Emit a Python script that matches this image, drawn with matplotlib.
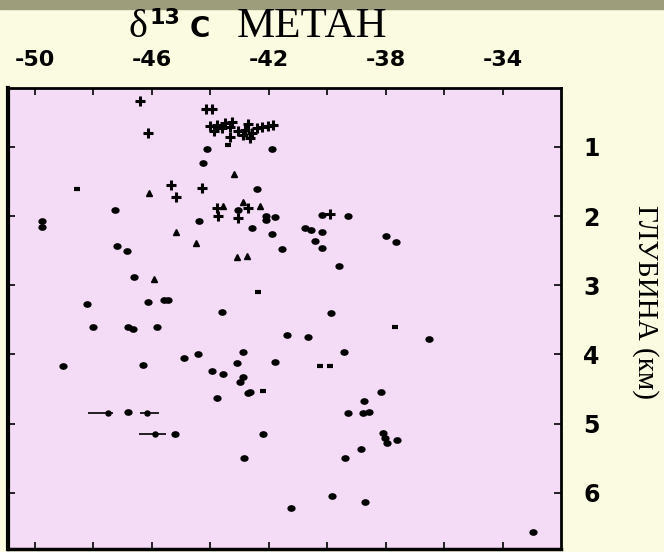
import matplotlib.pyplot as plt
from matplotlib.markers import MarkerStyle
from matplotlib.patches import Rectangle
from matplotlib.transforms import Affine2D

# delta13C метана (промилле) против глубины (км)
dot_x = [-44.11, -41.88, -44.25, -42.40, -47.26, -43.05, -42.09, -42.09, -41.78, -44.38,
         -42.57, -41.88, -49.76, -49.76, -41.54, -40.75, -40.55, -40.17, -40.41, -40.17,
         -40.17, -39.28, -37.98, -37.64, -47.19, -46.85, -46.61, -39.59, -48.22, -46.13,
         -45.58, -45.45, -43.60, -39.86, -48.01, -46.82, -46.64, -45.82, -41.37, -40.65,
         -36.51, -39.42, -49.04, -46.30, -44.90, -44.42, -42.88, -43.08, -41.78, -43.94,
         -43.56, -42.88, -42.98, -42.71, -42.64, -43.77, -38.15, -38.73, -39.28, -38.77,
         -38.56, -38.08, -38.01, -37.95, -37.60, -38.84, -39.38, -46.82, -45.21, -42.19,
         -42.84, -39.83, -38.70, -41.23, -32.95]
dot_y = [1.03, 1.03, 1.23, 1.61, 1.91, 1.91, 2.00, 2.06, 2.01, 2.07,
         2.17, 2.26, 2.07, 2.16, 2.47, 2.17, 2.20, 2.23, 2.36, 2.46,
         1.98, 2.00, 2.29, 2.37, 2.43, 2.50, 2.88, 2.72, 3.27, 3.24,
         3.21, 3.21, 3.38, 3.40, 3.60, 3.60, 3.63, 3.60, 3.72, 3.75,
         3.77, 3.96, 4.16, 4.15, 4.05, 3.99, 3.96, 4.12, 4.11, 4.24,
         4.28, 4.32, 4.40, 4.55, 4.54, 4.63, 4.54, 4.67, 4.84, 4.84,
         4.83, 5.13, 5.21, 5.28, 5.23, 5.36, 5.49, 4.83, 5.15, 5.15,
         5.49, 6.04, 6.13, 6.22, 6.56]

star_x = [-46.40, -46.13, -44.14, -43.94, -44.01, -43.77, -43.60, -43.49, -43.32, -43.25,
          -43.32, -43.05, -42.81, -42.88, -42.64, -42.57, -42.40, -42.23, -42.02, -41.85,
          -43.87, -42.71, -45.34, -45.17, -43.77, -43.73, -42.71, -43.05, -39.90, -44.28]
star_y = [0.34, 0.80, 0.45, 0.45, 0.70, 0.68, 0.73, 0.65, 0.71, 0.64,
          0.86, 0.77, 0.75, 0.83, 0.87, 0.80, 0.73, 0.71, 0.70, 0.68,
          0.77, 0.67, 1.55, 1.72, 1.88, 2.00, 1.88, 2.03, 1.97, 1.59]

tri_x = [-43.18, -46.10, -43.56, -42.88, -42.29, -45.17, -44.49, -43.08, -42.74, -45.92]
tri_y = [1.39, 1.66, 1.85, 1.79, 1.85, 2.23, 2.39, 2.59, 2.58, 2.91]

dash_x = [-43.39, -48.56, -42.36, -37.67, -40.24, -39.90, -42.19]
dash_y = [0.97, 1.61, 3.10, 3.60, 4.16, 4.16, 4.53]

err_x = [-47.50, -46.16, -45.89]
err_y = [4.84, 4.84, 5.15]
err_lo = [0.68, 0.24, 0.55]
err_hi = [0.17, 0.41, 0.38]

x_ticks = [-50, -46, -42, -38, -34]
x_minor = [-48, -44, -40, -36]
y_ticks = [1, 2, 3, 4, 5, 6]

W, H = 664, 552
fig = plt.figure(figsize=(W / 100, H / 100), dpi=100, facecolor="#fbfbe1")
fig.patches.append(Rectangle((0, 1 - 9 / H), 1, 9 / H, transform=fig.transFigure,
                             color="#9d9d7c", zorder=0))

ax = fig.add_axes([8 / W, 3 / H, 553 / W, 461 / H])
ax.set_facecolor("#f4dcf6")

oval = MarkerStyle("o", transform=Affine2D().scale(1.3, 1.0))
ax.plot(dot_x, dot_y, linestyle="none", marker=oval, ms=3.8, color="black")
ax.plot(star_x, star_y, linestyle="none", marker="+", ms=6.5, mew=2.2, color="black")
ax.plot(tri_x, tri_y, linestyle="none", marker="^", ms=4.6, color="black")
ax.plot(dash_x, dash_y, linestyle="none", marker="_", ms=5, mew=3, color="black")
ax.errorbar(err_x, err_y, xerr=[err_lo, err_hi], fmt="o", ms=3.6, color="black",
            elinewidth=1.2, capsize=0)

ax.set_xlim(-50.92, -32.0)
ax.set_ylim(6.81, 0.15)

ax.xaxis.tick_top()
ax.set_xticks(x_ticks)
ax.set_xticks(x_minor, minor=True)
ax.set_xticklabels([str(v) for v in x_ticks])
ax.yaxis.tick_right()
ax.set_yticks(y_ticks)
ax.set_yticklabels([str(v) for v in y_ticks])

ax.tick_params(which="both", direction="in", length=5, width=1.2,
               top=True, bottom=True, left=True, right=True)
ax.tick_params(axis="x", which="major", pad=13, labelsize=16)
ax.tick_params(axis="y", pad=16, labelsize=17)
for lab in ax.get_xticklabels() + ax.get_yticklabels():
    lab.set_fontweight("bold")
    lab.set_family("DejaVu Sans")

for side, lw in [("left", 3), ("top", 2), ("right", 2), ("bottom", 2.5)]:
    ax.spines[side].set_linewidth(lw)

# заголовок: δ13C МЕТАН
base = 1 - 37 / H
fig.text(128 / W, base, "δ", family="Liberation Serif", fontsize=29, va="baseline")
fig.text(150 / W, 1 - 24 / H, "13", family="DejaVu Sans", fontweight="bold",
         fontsize=16, va="baseline")
fig.text(190 / W, base, "C", family="DejaVu Sans", fontweight="bold",
         fontsize=20, va="baseline")
fig.text(237 / W, base, "МЕТАН", family="Liberation Serif", fontsize=31, va="baseline")

fig.text(645 / W, 1 - 302 / H, "ГЛУБИНА (км)", family="Liberation Serif", fontsize=21,
         rotation=270, ha="center", va="center")

fig.savefig("out.png", dpi=100, facecolor=fig.get_facecolor())
